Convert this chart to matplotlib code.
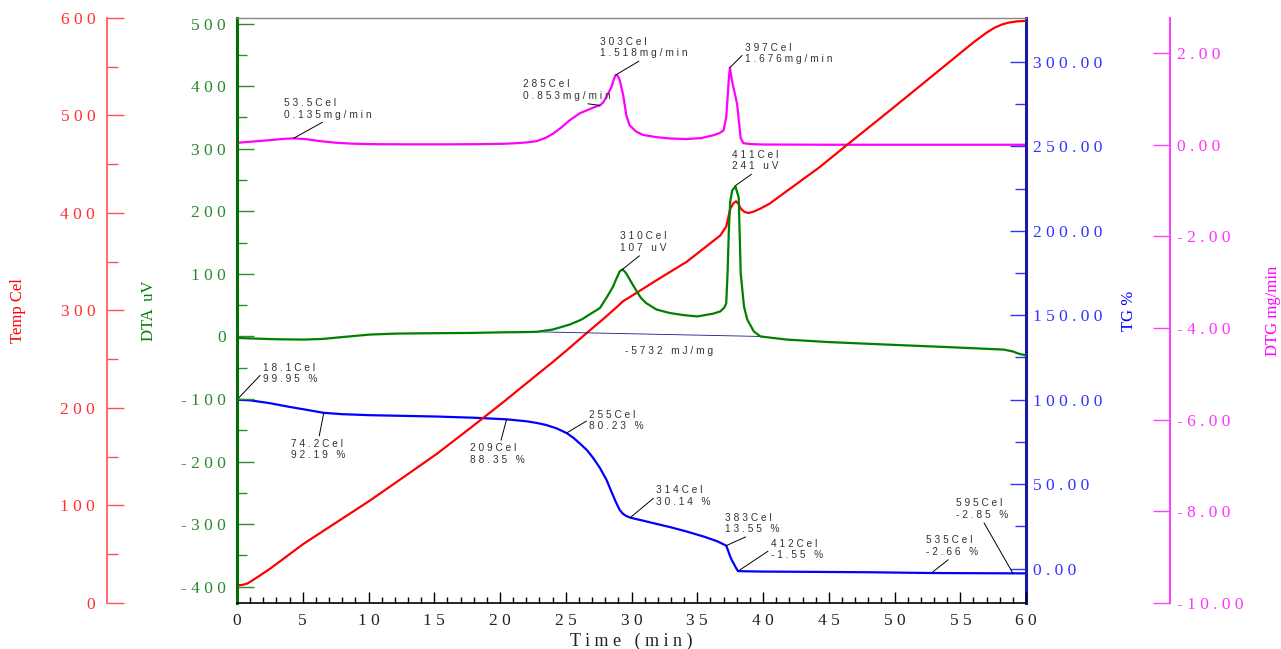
import matplotlib
matplotlib.use('Agg')
from matplotlib import pyplot as plt
from matplotlib.ticker import MultipleLocator, FixedLocator, FuncFormatter

plt.rcParams['font.family'] = ['Liberation Serif', 'DejaVu Serif']

"""Data read off the TG/DTA record"""
# Temp (Cel) against time (min)
temp_t = [0, 0.4, 0.8, 1.5, 2.5, 3.5, 5.06, 6.6, 10.1, 12.5, 15.2, 17.7, 20.25, 22.8, 24.0,
          25.06, 26.6, 28.0, 29.0, 29.35, 29.9, 31.9, 34.2, 36.75, 37.2, 37.3, 37.5, 37.75,
          37.95, 38.15, 38.3, 38.6, 38.9, 39.3, 39.8, 40.5, 44.3, 46.4, 50, 53, 55, 56, 57,
          57.6, 58.2, 58.7, 59.3, 60]
temp_v = [18.1, 18.5, 20, 26, 35, 45, 60.7, 74.2, 105, 127.5, 153, 179, 206, 234, 247,
          259, 277, 293, 305, 309.5, 314, 331, 350, 377, 386, 392, 404, 410,
          412, 409, 404.5, 401, 400, 401.5, 404.5, 409.6, 447, 470, 509, 542, 564, 575, 585,
          590, 593.5, 595.3, 596.5, 597]

# DTA (uV)
dta_t = [0, 1.5, 3, 5.1, 6.5, 8, 10.1, 12, 14, 17.7, 20, 22.0, 22.8, 24.0, 25.3, 26.2, 26.8,
         27.6, 28.1, 28.3, 28.6, 28.8, 29.1, 29.3, 29.5, 29.73, 30.0, 30.4, 30.7, 31.1, 31.9,
         32.9, 34.0, 35.0, 36.2, 36.75, 37.05, 37.2, 37.3, 37.4, 37.5, 37.65, 37.9, 38.15,
         38.3, 38.55, 38.8, 39.3, 39.8, 41.8, 45, 49.4, 54, 58.3, 59.0, 59.5, 60]
dta_v = [-2.4, -3.5, -4.5, -5, -4, -1, 3, 4.5, 5, 5.6, 6.5, 7, 7.5, 11, 19, 27, 35,
         45.5, 62, 69, 80, 90, 104, 107, 103.5, 96, 86, 72, 62, 53.5, 43,
         37.5, 34, 32, 36.4, 40, 46, 53, 100, 170, 215, 233, 240, 222,
         101, 48, 27, 8, 0, -5, -9, -13, -17, -21, -24, -28, -30]
base_t = [22.6, 39.8]
base_v = [7.5, 0.0]

# TG (%)
tg_t = [0, 1.0, 2.5, 4.0, 5.06, 6.6, 8.0, 10.1, 15.2, 18, 20.5, 22.0, 22.8, 23.5, 24.3,
        25.06, 25.6, 26.1, 26.6, 27.1, 27.6, 28.1, 28.5, 28.8, 29.1, 29.35, 29.6, 29.9,
        30.4, 30.8, 31.7, 33.0, 34.2, 35.5, 36.5, 37.2, 37.35, 37.5, 37.65, 37.8, 37.95,
        38.1, 40, 44.3, 48, 52.8, 59, 60]
tg_v = [99.95, 99.6, 97.9, 95.7, 94.3, 92.19, 91.4, 90.8, 90.0, 89.3, 88.35, 87.2, 86.2, 85.0, 83.0,
        80.23, 77.3, 73.8, 70.2, 65.3, 59.5, 52.5, 45, 39.5, 34.7, 32.4, 31.1, 30.14,
        29.2, 28.5, 26.8, 24.4, 21.9, 18.9, 16.2, 13.55, 10.5, 7.1, 4.6, 2.5, 0.3,
        -1.55, -1.8, -2.0, -2.2, -2.66, -2.85, -2.85]

# DTG (mg/min)
dtg_t = [0, 1.2, 2.5, 3.5, 4.3, 5.3, 6.3, 7.6, 8.8, 10.1, 13, 16, 18.5, 20.3, 21.2,
         22.0, 22.8, 23.5, 24.05, 24.7, 25.3, 26.06, 26.8, 27.3, 27.6, 27.85, 28.1, 28.48,
         28.65, 28.8, 28.95, 29.1, 29.37, 29.6, 29.85, 30.36, 30.87, 31.9, 33.0, 34.2, 35.3,
         36.2, 36.7, 37.0, 37.2, 37.3, 37.4, 37.48, 37.6, 37.75, 37.9, 38.03, 38.15, 38.3,
         38.5, 39.0, 40, 45, 50, 55, 60]
dtg_v = [0.037, 0.065, 0.096, 0.122, 0.135, 0.115, 0.074, 0.037, 0.018, 0.008, 0.004, 0.004, 0.008, 0.016, 0.028,
         0.045, 0.075, 0.15, 0.24, 0.38, 0.53, 0.68, 0.77, 0.83, 0.853, 0.92, 1.04, 1.26,
         1.42, 1.518, 1.50, 1.41, 1.07, 0.64, 0.42, 0.28, 0.21, 0.16, 0.13, 0.12, 0.14,
         0.20, 0.25, 0.31, 0.60, 1.00, 1.45, 1.676, 1.45, 1.24, 1.05, 0.88, 0.55, 0.14,
         0.03, 0.01, 0.0, -0.005, -0.005, -0.005, -0.005]

# peak / step labels
dtg_note_t = [4.3, 27.6, 28.8, 37.48]
dtg_note_temp = ['53.5', '285', '303', '397']
dtg_note_val = ['0.135', '0.853', '1.518', '1.676']
dta_note_t = [29.3, 37.9]
dta_note_temp = ['310', '411']
dta_note_val = ['107', '241']
tg_note_t = [0, 6.6, 20.5, 25.06, 29.9, 37.2, 38.1, 52.8, 59.0]
tg_note_temp = ['18.1', '74.2', '209', '255', '314', '383', '412', '535', '595']
tg_note_val = ['99.95', '92.19', '88.35', '80.23', '30.14', '13.55', '-1.55', '-2.66', '-2.85']
dta_heat = '-5732 mJ/mg'

# text offsets (px) and where the leader meets the text box
dtg_note_off = [(-10, 29.6), (-76.6, 15.2), (-16, 27.3), (15, 14)]
dtg_note_rel = [(0.5, 0), (0.5, 0), (0.5, 0), (0, 0.55)]
dta_note_off = [(-2.7, 27.3), (-3.3, 25)]
dta_note_rel = [(0.5, 0), (0.5, 0)]
tg_note_off = [(26, 26.3), (-32.3, -36.7), (-36.4, -34.4), (22.7, 12.6), (26, 21.7),
               (-1.7, 22.3), (32.7, 21.8), (-5.7, 26.9), (-56.6, 64.1)]
tg_note_rel = [(0, 0.55), (0.5, 1), (0.55, 1), (0, 0.55), (0, 0.5),
               (0.5, 0), (0, 0.5), (0.5, 0), (0.5, 0)]


def spaced(s):
    return '\n'.join(' '.join(line) for line in s.split('\n'))


def note(axis, t, v, text, off, rel):
    axis.annotate(spaced(text), xy=(t, v), xytext=(off[0] * 0.72, off[1] * 0.72),
                  textcoords='offset points', ha='left', va='center', fontsize=7.3,
                  family=['Liberation Sans', 'DejaVu Sans'], color='#333333',
                  arrowprops=dict(arrowstyle='-', color='black', lw=0.7,
                                  shrinkA=0, shrinkB=0, relpos=rel),
                  annotation_clip=False, zorder=6)


fig = plt.figure(figsize=(12.81, 6.49), dpi=100)
ax = fig.add_axes([0.185, 0.0709, 0.616, 0.9014])
ax_tg = ax.twinx()
ax_temp = ax.twinx()
ax_dtg = ax.twinx()

ax_dtg.set_zorder(1)
ax_tg.set_zorder(2)
ax_temp.set_zorder(3)
ax.set_zorder(4)
ax.patch.set_visible(False)

"""Curves"""
ax_dtg.plot(dtg_t, dtg_v, color='#ff00ff', lw=1.6)
ax_tg.plot(tg_t, tg_v, color='#0000ff', lw=1.6)
ax_temp.plot(temp_t, temp_v, color='#ff0000', lw=1.6)
ax.plot(base_t, base_v, color='#1a1a8c', lw=0.6, zorder=1)
ax.plot(dta_t, dta_v, color='#008000', lw=1.6, zorder=2)

ax.set_xlim(0, 60)
ax.set_ylim(-426, 509)
ax_tg.set_ylim(-20.4, 326)
ax_temp.set_ylim(0, 600)
ax_dtg.set_ylim(-10, 2.76)

"""Spines"""
for a in (ax_tg, ax_temp, ax_dtg):
    for s in a.spines.values():
        s.set_visible(False)
ax.spines['right'].set_visible(False)
ax.spines['left'].set_color('#007000')
ax.spines['left'].set_linewidth(2.2)
ax.spines['top'].set_color('#888888')
ax.spines['top'].set_linewidth(1)
ax.spines['bottom'].set_color('black')
ax.spines['bottom'].set_linewidth(1.2)

ax_tg.spines['right'].set_visible(True)
ax_tg.spines['right'].set_color('#1a1aa0')
ax_tg.spines['right'].set_linewidth(2.2)

ax_temp.spines['left'].set_visible(True)
ax_temp.spines['left'].set_position(('axes', -0.1648))
ax_temp.spines['left'].set_color('#ff5050')
ax_temp.spines['left'].set_linewidth(1.2)
ax_temp.yaxis.set_ticks_position('left')
ax_temp.yaxis.set_label_position('left')

ax_dtg.spines['right'].set_visible(True)
ax_dtg.spines['right'].set_position(('axes', 1.1825))
ax_dtg.spines['right'].set_color('#ff40ff')
ax_dtg.spines['right'].set_linewidth(1.5)

"""Ticks"""
ax.xaxis.set_major_locator(MultipleLocator(5))
ax.xaxis.set_minor_locator(MultipleLocator(1))
ax.xaxis.set_major_formatter(FuncFormatter(lambda v, p: spaced('%d' % v)))
ax.tick_params(axis='x', which='major', direction='in', length=7.7, width=1,
               color='black', labelsize=12.5, pad=7, labelcolor='#222222')
ax.tick_params(axis='x', which='minor', direction='in', length=4.3, width=1, color='black')

ax.yaxis.set_major_locator(MultipleLocator(100))
ax.yaxis.set_minor_locator(MultipleLocator(50))
ax.yaxis.set_major_formatter(FuncFormatter(lambda v, p: spaced('%d' % v)))
ax.tick_params(axis='y', which='major', direction='in', length=12, width=1,
               color='#2e8b2e', labelcolor='#2a8a2a', labelsize=12.5, pad=8)
ax.tick_params(axis='y', which='minor', direction='in', length=7.2, width=1, color='#2e8b2e')

ax_tg.yaxis.set_major_locator(MultipleLocator(50))
ax_tg.yaxis.set_minor_locator(FixedLocator([25, 75, 125, 175, 225, 275]))
ax_tg.yaxis.set_major_formatter(FuncFormatter(lambda v, p: spaced('%.2f' % v)))
ax_tg.tick_params(axis='y', which='major', direction='in', length=11.5, width=1,
                  color='#3333ff', labelcolor='#3333ff', labelsize=12.5, pad=5)
ax_tg.tick_params(axis='y', which='minor', direction='in', length=7.9, width=1, color='#3333ff')

ax_temp.yaxis.set_major_locator(MultipleLocator(100))
ax_temp.yaxis.set_minor_locator(MultipleLocator(50))
ax_temp.yaxis.set_major_formatter(FuncFormatter(lambda v, p: spaced('%d' % v)))
ax_temp.tick_params(axis='y', which='major', direction='in', length=12, width=1,
                    color='#ff5050', labelcolor='#ff3030', labelsize=12.5, pad=8.5)
ax_temp.tick_params(axis='y', which='minor', direction='in', length=7.7, width=1, color='#ff5050')

ax_dtg.yaxis.set_major_locator(MultipleLocator(2))
ax_dtg.yaxis.set_major_formatter(FuncFormatter(lambda v, p: spaced('%.2f' % v)))
ax_dtg.tick_params(axis='y', which='major', direction='in', length=12, width=1,
                   color='#ff40ff', labelcolor='#ff33ff', labelsize=12.5, pad=5)

"""Axis titles"""
ax.text(-0.2769, 0.5, 'Temp Cel', transform=ax.transAxes, rotation=90,
        ha='center', va='center', fontsize=12, color='#ff0000')
ax.text(-0.1115, 0.5, 'DTA  uV', transform=ax.transAxes, rotation=90,
        ha='center', va='center', fontsize=12, color='#007f00')
ax.text(1.1305, 0.5, 'TG %', transform=ax.transAxes, rotation=90,
        ha='center', va='center', fontsize=12, color='#0000ff')
ax.text(1.3131, 0.5, 'DTG mg/min', transform=ax.transAxes, rotation=90,
        ha='center', va='center', fontsize=12, color='#ff00ff')
ax.text(0.5, -0.065, spaced('Time (min)'), transform=ax.transAxes,
        ha='center', va='center', fontsize=13, color='#222222')

"""Labels on the curves"""
for t, tc, val, off, rel in zip(dtg_note_t, dtg_note_temp, dtg_note_val, dtg_note_off, dtg_note_rel):
    note(ax_dtg, t, float(val), tc + 'Cel\n' + val + 'mg/min', off, rel)
for t, tc, val, off, rel in zip(dta_note_t, dta_note_temp, dta_note_val, dta_note_off, dta_note_rel):
    note(ax, t, float(val), tc + 'Cel\n' + val + ' uV', off, rel)
for t, tc, val, off, rel in zip(tg_note_t, tg_note_temp, tg_note_val, tg_note_off, tg_note_rel):
    note(ax_tg, t, float(val), tc + 'Cel\n' + val + ' %', off, rel)
ax.text(29.5, -23.8, spaced(dta_heat), ha='left', va='center', fontsize=7.3,
        family=['Liberation Sans', 'DejaVu Sans'], color='#333333')

fig.savefig('out.png', dpi=100)
